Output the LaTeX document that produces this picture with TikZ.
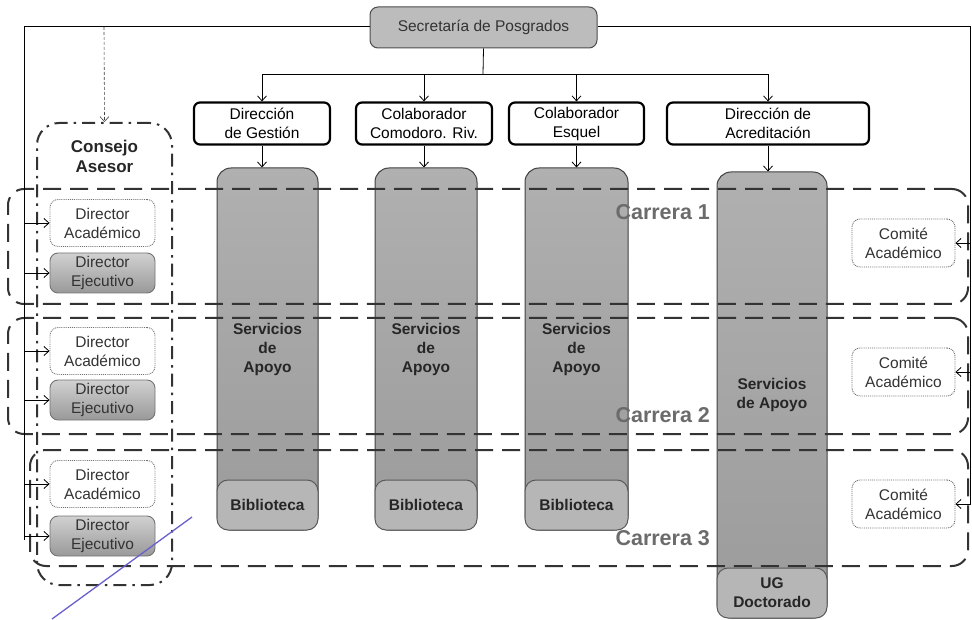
\documentclass[tikz,border=0pt]{standalone}
\usepackage{fontspec}
\setmainfont{Liberation Sans}
\usetikzlibrary{arrows.meta}
\newcommand\fsn{\fontsize{15.5}{19}\selectfont}
\newcommand\fsc{\fontsize{17}{20}\selectfont\bfseries}
\newcommand\fsk{\fontsize{21.5}{24}\selectfont\bfseries}
\definecolor{colgray}{RGB}{176,176,176}
\definecolor{colgrayb}{RGB}{155,155,155}
\definecolor{secgray}{RGB}{188,188,188}
\definecolor{bibgray}{RGB}{182,182,182}
\definecolor{pen}{RGB}{105,95,205}
\tikzset{
  arr/.style={-{Straight Barb[length=5pt,width=9pt]}, line width=0.8pt},
  lvl/.style={draw, line width=2.2pt, rounded corners=6pt, fill=white, align=center, inner sep=0pt, font=\fsn, minimum height=42pt},
  secbox/.style={draw=black!70, line width=1pt, fill=secgray, rounded corners=8pt, font=\fsn, text=black!80, minimum width=227pt, minimum height=41pt},
  colbox/.style={draw=black!75, line width=1pt, rounded corners=14pt, top color=colgray, bottom color=colgrayb, align=center, font=\fsn\bfseries, text=black!85},
  bibbox/.style={draw=black!65, line width=1pt, fill=bibgray, rounded corners=11pt, align=center, font=\fsn\bfseries, text=black!85, minimum width=101pt, minimum height=50pt},
  dacbox/.style={draw=black!55, densely dotted, line width=0.9pt, fill=white, rounded corners=8pt, align=center, font=\fsn, text=black!80, minimum width=105pt, minimum height=47pt, inner sep=0pt},
  dejbox/.style={draw=black!55, line width=0.9pt, top color=black!18, bottom color=black!40, rounded corners=8pt, align=center, font=\fsn, text=black!80, minimum width=105pt, minimum height=40pt, inner sep=0pt},
  comibox/.style={draw=black!60, densely dotted, line width=0.9pt, fill=white, rounded corners=8pt, align=center, font=\fsn, text=black!80, minimum width=103pt, minimum height=48pt, inner sep=0pt},
  carrbox/.style={draw=black!80, dash pattern=on 18pt off 9pt, line width=2pt, rounded corners=16pt},
  consbox/.style={draw=black!80, dash pattern=on 13pt off 6pt on 2.5pt off 6pt, line width=2pt, rounded corners=22pt, minimum width=135pt, minimum height=462pt},
  carrlab/.style={font=\fsk, text=black!58, anchor=west},
}
\begin{document}
\begin{tikzpicture}[x=1pt,y=-1pt]
\useasboundingbox (0,0) rectangle (972,620);

% columns
\node[colbox, minimum width=101pt, minimum height=362pt] (col1) at (267.5,349) {Servicios\\de\\Apoyo};
\node[colbox, minimum width=102pt, minimum height=362pt] (col2) at (426,349) {Servicios\\de\\Apoyo};
\node[colbox, minimum width=103pt, minimum height=362pt] (col3) at (576.5,349) {Servicios\\de\\Apoyo};
\node[colbox, minimum width=110pt, minimum height=446pt] (col4) at (772,395) {Servicios\\de Apoyo};
\node[bibbox] (bib1) at (267.5,505) {Biblioteca};
\node[bibbox, minimum width=102pt] (bib2) at (426,505) {Biblioteca};
\node[bibbox, minimum width=103pt] (bib3) at (576.5,505) {Biblioteca};
\node[bibbox, minimum width=110pt, minimum height=50pt] (ug) at (772,593) {UG\\Doctorado};

% carreras
\node[carrbox, minimum width=960pt, minimum height=115pt] (car1) at (488,246.5) {};
\node[carrbox, minimum width=960pt, minimum height=116pt] (car2) at (488,376) {};
\node[carrbox, minimum width=938pt, minimum height=116pt] (car3) at (499,508) {};
\node[carrlab] (lab1) at (612,212) {Carrera 1};
\node[carrlab] (lab2) at (612,415) {Carrera 2};
\node[carrlab] (lab3) at (612,538) {Carrera 3};

% consejo
\node[consbox] (cons) at (104.5,354) {};
\node[font=\fsc, align=center, text=black!85] (constxt) at (104.5,156) {Consejo\\Asesor};

% top
\node[secbox] (sec) at (483.5,27.5) {Secretaría de Posgrados};
\node[lvl, minimum width=136pt] (g) at (262,123.5) {Dirección\\de Gestión};
\node[lvl, minimum width=136pt] (c) at (424,123.5) {Colaborador\\Comodoro. Riv.};
\node[lvl, minimum width=135pt] (e) at (576.5,123.5) {Colaborador\\Esquel};
\node[lvl, minimum width=202pt] (a) at (768,123.5) {Dirección de\\Acreditación};

\coordinate (bus) at (483,74);
\draw[line width=0.8pt] (sec.south) -- (bus);
\draw[line width=0.8pt] (g.north |- bus) -- (a.north |- bus);
\foreach \n in {g,c,e,a}{
  \draw[arr] (\n.north |- bus) -- (\n.north);
}
\draw[arr] (g.south) -- (g.south |- col1.north);
\draw[arr] (c.south) -- (c.south |- col2.north);
\draw[arr] (e.south) -- (e.south |- col3.north);
\draw[arr] (a.south) -- (a.south |- col4.north);

% directors
\node[dacbox] (da1) at (102.5,223) {Director\\Académico};
\node[dejbox] (de1) at (102.5,273) {Director\\Ejecutivo};
\node[dacbox] (da2) at (102.5,351) {Director\\Académico};
\node[dejbox] (de2) at (102.5,400) {Director\\Ejecutivo};
\node[dacbox] (da3) at (102.5,484) {Director\\Académico};
\node[dejbox] (de3) at (102.5,536) {Director\\Ejecutivo};

% comites
\node[comibox] (ca1) at (903.5,243) {Comité\\Académico};
\node[comibox] (ca2) at (903.5,372) {Comité\\Académico};
\node[comibox] (ca3) at (903.5,504) {Comité\\Académico};

% left bus
\coordinate (lt) at (24.5,26.5);
\coordinate (lb) at (24.5,540);
\draw[line width=0.9pt] (sec.west |- lt) -- (lt) -- (lb);
\foreach \n in {da1,de1,da2,de2,da3,de3}{
  \draw[arr] (\n.west -| lt) -- (\n.west);
}
% right bus
\coordinate (rt) at (970.5,26.5);
\coordinate (rb) at (970.5,504);
\draw[line width=0.9pt] (sec.east |- rt) -- (rt) -- (rb);
\foreach \n in {ca1,ca2,ca3}{
  \draw[arr] (\n.east -| rt) -- (\n.east);
}
% consejo arrow
\coordinate (ct) at (104,27);
\draw[arr, densely dashed, line width=0.6pt, draw=black!75] (ct) -- (cons.north);

% pen mark
\coordinate (p1) at (52,619);
\coordinate (p2) at (192,517);
\draw[pen, line width=1.3pt] (p1) -- (p2);
\end{tikzpicture}
\end{document}
